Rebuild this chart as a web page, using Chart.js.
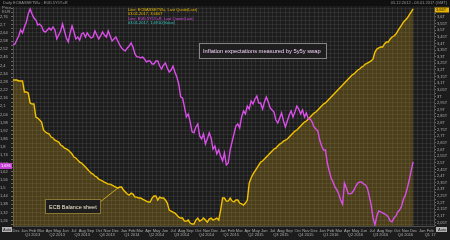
<!DOCTYPE html>
<html>
<head>
<meta charset="utf-8">
<script src="https://cdn.jsdelivr.net/npm/chart.js@4.4.0/dist/chart.umd.min.js"></script>
<style>
  html, body { margin: 0; padding: 0; background: #1c1c1c; overflow: hidden; }
  canvas { display: block; }
</style>
</head>
<body>
<canvas id="chart" width="450" height="240"></canvas>
<script>
// weekly observations, first one on 05.12.2012
const firstWeek = [2012, 11, 5];
const axisEnd = [2017, 2, 1];
const monthNames = ["Jan", "Feb", "Mar", "Apr", "May", "Jun", "Jul", "Aug", "Sep", "Oct", "Nov", "Dec"];

// EUR 5y5y inflation swap (%), left axis
const inflation5y5y = [
  2.551, 2.558, 2.587, 2.617, 2.661, 2.639, 2.683, 2.720, 2.779, 2.815,
  2.779, 2.749, 2.734, 2.698, 2.705, 2.690, 2.654, 2.646, 2.661, 2.676,
  2.661, 2.683, 2.661, 2.595, 2.624, 2.654, 2.705, 2.654, 2.602, 2.573,
  2.639, 2.690, 2.646, 2.595, 2.609, 2.587, 2.632, 2.639, 2.609, 2.639,
  2.617, 2.602, 2.609, 2.654, 2.624, 2.595, 2.617, 2.646, 2.624, 2.609,
  2.654, 2.617, 2.580, 2.595, 2.609, 2.580, 2.551, 2.529, 2.514, 2.507,
  2.529, 2.543, 2.565, 2.536, 2.485, 2.463, 2.463, 2.455, 2.463, 2.448,
  2.426, 2.433, 2.433, 2.411, 2.411, 2.433, 2.433, 2.396, 2.374, 2.404,
  2.418, 2.382, 2.352, 2.367, 2.396, 2.352, 2.316, 2.264, 2.169, 2.161,
  2.095, 2.022, 2.044, 1.985, 1.912, 1.905, 1.948, 1.970, 1.882, 1.860,
  1.897, 1.823, 1.860, 1.904, 1.867, 1.786, 1.808, 1.750, 1.779, 1.735,
  1.698, 1.757, 1.669, 1.683, 1.779, 1.838, 1.897, 1.955, 1.970, 1.941,
  2.022, 2.066, 2.044, 2.102, 2.080, 2.139, 2.117, 2.154, 2.176, 2.124,
  2.124, 2.080, 2.132, 2.169, 2.132, 2.088, 2.073, 2.058, 1.999, 1.977,
  2.014, 2.051, 1.992, 1.948, 1.992, 2.036, 2.066, 2.022, 2.058, 2.102,
  2.080, 2.044, 2.073, 2.022, 2.051, 2.007, 2.007, 1.985, 1.948, 1.933,
  1.919, 1.852, 1.808, 1.779, 1.779, 1.683, 1.625, 1.573, 1.544, 1.507,
  1.485, 1.456, 1.411, 1.380, 1.536, 1.500, 1.456, 1.456, 1.463, 1.485,
  1.514, 1.536, 1.544, 1.544, 1.529, 1.522, 1.500, 1.441, 1.375, 1.279,
  1.228, 1.294, 1.331, 1.323, 1.316, 1.309, 1.301, 1.287, 1.257, 1.250,
  1.279, 1.294, 1.323, 1.338, 1.367, 1.419, 1.448, 1.500, 1.558, 1.625,
  1.691
];

// ECB total assets (EUR trillions), right axis
const ecbAssets = [
  3.124, 3.124, 3.124, 3.117, 3.117, 3.117, 3.034, 3.034, 3.026, 2.951,
  2.943, 2.943, 2.845, 2.837, 2.822, 2.807, 2.747, 2.732, 2.724, 2.717,
  2.694, 2.687, 2.671, 2.664, 2.656, 2.634, 2.626, 2.611, 2.604, 2.596,
  2.581, 2.566, 2.543, 2.536, 2.520, 2.505, 2.498, 2.483, 2.468, 2.453,
  2.437, 2.422, 2.415, 2.400, 2.392, 2.377, 2.370, 2.362, 2.354, 2.347,
  2.339, 2.339, 2.332, 2.324, 2.317, 2.309, 2.317, 2.317, 2.294, 2.279,
  2.264, 2.256, 2.271, 2.264, 2.241, 2.241, 2.234, 2.234, 2.226, 2.219,
  2.211, 2.204, 2.204, 2.234, 2.249, 2.249, 2.219, 2.241, 2.234, 2.234,
  2.219, 2.196, 2.143, 2.136, 2.128, 2.121, 2.106, 2.090, 2.083, 2.083,
  2.060, 2.060, 2.068, 2.045, 2.038, 2.038, 2.068, 2.083, 2.060, 2.068,
  2.083, 2.068, 2.053, 2.075, 2.083, 2.068, 2.075, 2.083, 2.068, 2.143,
  2.234, 2.234, 2.211, 2.211, 2.234, 2.211, 2.204, 2.219, 2.219, 2.196,
  2.189, 2.181, 2.196, 2.219, 2.347, 2.385, 2.415, 2.437, 2.460, 2.483,
  2.505, 2.513, 2.528, 2.543, 2.558, 2.573, 2.588, 2.604, 2.611, 2.626,
  2.641, 2.649, 2.664, 2.671, 2.679, 2.694, 2.709, 2.724, 2.739, 2.747,
  2.762, 2.777, 2.792, 2.807, 2.815, 2.830, 2.845, 2.860, 2.875, 2.883,
  2.898, 2.913, 2.928, 2.943, 2.951, 2.966, 2.981, 2.996, 3.011, 3.026,
  3.041, 3.056, 3.071, 3.086, 3.102, 3.117, 3.132, 3.147, 3.162, 3.170,
  3.185, 3.200, 3.207, 3.222, 3.230, 3.245, 3.252, 3.260, 3.268, 3.283,
  3.335, 3.358, 3.366, 3.373, 3.373, 3.396, 3.411, 3.411, 3.434, 3.449,
  3.456, 3.471, 3.494, 3.517, 3.539, 3.562, 3.577, 3.592, 3.615, 3.637,
  3.660
];

const legendLines = [
  ["Line; ECBASSETW=, Last Quote(Last)", "#e8b800"],
  ["03.01.2017, 3,660T", "#e8b800"],
  ["Line; EUIL5Y5Y=R, Last Quote(Last)", "#d94ee8"],
  ["03.01.2017, 1,6910(Value)", "#3cc8c8"]
];

const DAY = 864e5;
const origin = Date.UTC(2012, 11, 1);
const dayOf = (y, m, d) => (Date.UTC(y, m, d) - origin) / DAY;
const xStart = dayOf(...firstWeek);
const xEnd = dayOf(...axisEnd);

const infPoints = inflation5y5y.map((v, i) => ({ x: xStart + 7 * i, y: v }));
const ecbPoints = ecbAssets.map((v, i) => ({ x: xStart + 7 * i, y: v }));

// month boundaries + month centres (labels sit on the centres)
const monthTicks = [];
const monthLabels = new Map();
for (let y = 2012, m = 11; ; ) {
  const s = dayOf(y, m, 1);
  const e = dayOf(y, m + 1, 1);
  if (s >= xEnd) break;
  if (s >= xStart) monthTicks.push(s);
  const mid = (s + e) / 2;
  if (mid > xStart && mid < xEnd) {
    monthTicks.push(mid);
    let q = "";
    if (m % 3 === 1) {
      const qEnd = dayOf(y, m + 2, 1);
      q = "Q" + ((m - 1) / 3 + 1) + " " + (qEnd > xEnd ? String(y).slice(2) : y);
    }
    monthLabels.set(mid, [monthNames[m], q]);
  }
  m++;
  if (m > 11) { m = 0; y++; }
}

const fmt = v => String(+v.toFixed(3)).replace(".", ",");
const gridColor = "rgba(255,255,255,0.075)";
const tickFont = { family: "Liberation Sans, Arial, sans-serif", size: 4 };

const deco = {
  id: "deco",
  beforeDraw(chart) {
    const c = chart.ctx;
    c.save();
    c.fillStyle = "#1c1c1c";
    c.fillRect(0, 0, chart.width, chart.height);
    c.fillStyle = "#101010";
    c.fillRect(0, 0, chart.width, 6);
    c.restore();
  },
  afterDraw(chart) {
    const c = chart.ctx;
    const { yL, yR, x } = chart.scales;
    const ff = "Liberation Sans, Arial, sans-serif";
    c.save();

    // header strip
    c.font = "4px " + ff;
    c.fillStyle = "#9a9a9a";
    c.textBaseline = "middle";
    c.textAlign = "left";
    c.fillText("Daily ECBASSETW= ; EUIL5Y5Y=R", 3, 3);
    c.textAlign = "right";
    c.fillText("05.12.2012 - 03.01.2017 (GMT)", 447, 3);
    c.textAlign = "left";
    c.fillText("Price", 2, 8);
    c.fillText("EUR", 2, 12);

    // legend block
    legendLines.forEach(([t, col], i) => {
      c.fillStyle = col;
      c.fillText(t, 128, 10 + i * 4.3);
    });

    // last value boxes
    const lastInf = inflation5y5y[inflation5y5y.length - 1];
    const lastEcb = ecbAssets[ecbAssets.length - 1];
    let py = yL.getPixelForValue(lastInf) + 4;
    c.fillStyle = "#c83fd8";
    c.fillRect(0, py - 3, 12, 6);
    c.fillStyle = "#ffffff";
    c.fillText(fmt(lastInf), 1, py);
    py = yR.getPixelForValue(lastEcb) + 1;
    c.fillStyle = "#e8b400";
    c.fillRect(435, py - 2.5, 14, 5);
    c.fillStyle = "#111";
    c.fillText(fmt(lastEcb) + "T", 436, py);

    // "Auto" buttons
    c.fillStyle = "#b4b4b4";
    c.fillRect(2, 227, 10, 5);
    c.fillRect(436, 227, 11, 5);
    c.fillStyle = "#222";
    c.fillText("Auto", 3, 229.5);
    c.fillText("Auto", 438, 229.5);

    // annotation boxes
    const box = (x0, y0, w, h, text, border, color) => {
      c.fillStyle = "#1e1e1e";
      c.fillRect(x0, y0, w, h);
      c.strokeStyle = border;
      c.lineWidth = 1;
      c.strokeRect(x0 + 0.5, y0 + 0.5, w - 1, h - 1);
      let size = 8;
      do {
        c.font = size + "px " + ff;
        size -= 0.25;
      } while (c.measureText(text).width > w - 8 && size > 3);
      c.fillStyle = color;
      c.textAlign = "left";
      c.textBaseline = "middle";
      c.fillText(text, x0 + 4, y0 + h / 2 + 0.5);
    };

    // leader from ECB box to the line
    const tgt = ecbPoints[55];
    c.strokeStyle = "#c9a52a";
    c.lineWidth = 1;
    c.beginPath();
    c.moveTo(100, 202);
    c.lineTo(x.getPixelForValue(tgt.x), yR.getPixelForValue(tgt.y));
    c.stroke();

    box(199, 43, 128, 16, "Inflation expectations measured by 5y5y swap", "#858585", "#f0d2f6");
    box(45, 199, 56, 15, "ECB Balance sheet", "#8a7634", "#f4ecd0");
    c.restore();
  }
};

new Chart(document.getElementById("chart").getContext("2d"), {
  type: "line",
  data: {
    datasets: [
      {
        label: "5y5y",
        data: infPoints,
        yAxisID: "yL",
        borderColor: "#d94ee8",
        borderWidth: 1.4,
        pointRadius: 0,
        tension: 0,
        fill: false,
        order: 0
      },
      {
        label: "ECB",
        data: ecbPoints,
        yAxisID: "yR",
        borderColor: "#f2c200",
        backgroundColor: "rgba(205,160,25,0.27)",
        borderWidth: 1.4,
        pointRadius: 0,
        tension: 0,
        fill: "start",
        order: 1
      }
    ]
  },
  options: {
    responsive: false,
    animation: false,
    devicePixelRatio: 1,
    layout: { padding: { top: 7, left: 0, right: 0, bottom: 0 } },
    plugins: { legend: { display: false }, tooltip: { enabled: false } },
    scales: {
      x: {
        type: "linear",
        min: xStart,
        max: xEnd,
        afterFit: s => { s.height = 14; },
        afterBuildTicks: s => { s.ticks = monthTicks.map(v => ({ value: v })); },
        grid: { color: gridColor, drawTicks: false },
        border: { color: "#4c4c4c" },
        ticks: {
          autoSkip: false,
          maxRotation: 0,
          padding: 2,
          color: "#b0b0b0",
          font: tickFont,
          callback: v => monthLabels.get(v) || ""
        }
      },
      yL: {
        position: "left",
        min: 1.22,
        max: 2.83,
        afterFit: s => { s.width = 13; },
        afterBuildTicks: s => {
          const t = [];
          for (let k = Math.ceil(1.22 / 0.03); k * 0.03 <= 2.83; k++) t.push({ value: +(k * 0.03).toFixed(2) });
          s.ticks = t;
        },
        grid: { color: gridColor, tickLength: 2, tickColor: "#6a6a6a" },
        border: { color: "#4c4c4c" },
        ticks: {
          autoSkip: false,
          padding: 1,
          crossAlign: "far",
          color: "#b0b0b0",
          font: tickFont,
          callback: v => (Math.round(v / 0.03) % 2 === 0 && v <= 2.78 ? fmt(v) : "")
        }
      },
      yR: {
        position: "right",
        min: 2.023,
        max: 3.675,
        afterFit: s => { s.width = 16; },
        afterBuildTicks: s => {
          const t = [];
          for (let k = Math.ceil(2.023 / 0.025); k * 0.025 <= 3.675; k++) t.push({ value: +(k * 0.025).toFixed(3) });
          s.ticks = t;
        },
        grid: { drawOnChartArea: false, tickLength: 2, tickColor: "#6a6a6a" },
        border: { color: "#4c4c4c" },
        ticks: {
          autoSkip: false,
          padding: 1,
          color: "#b0b0b0",
          font: tickFont,
          callback: v => (Math.round(v / 0.025) % 2 === 0 && v <= 3.62 ? fmt(v) + "T" : "")
        }
      }
    }
  },
  plugins: [deco]
});
</script>
</body>
</html>
